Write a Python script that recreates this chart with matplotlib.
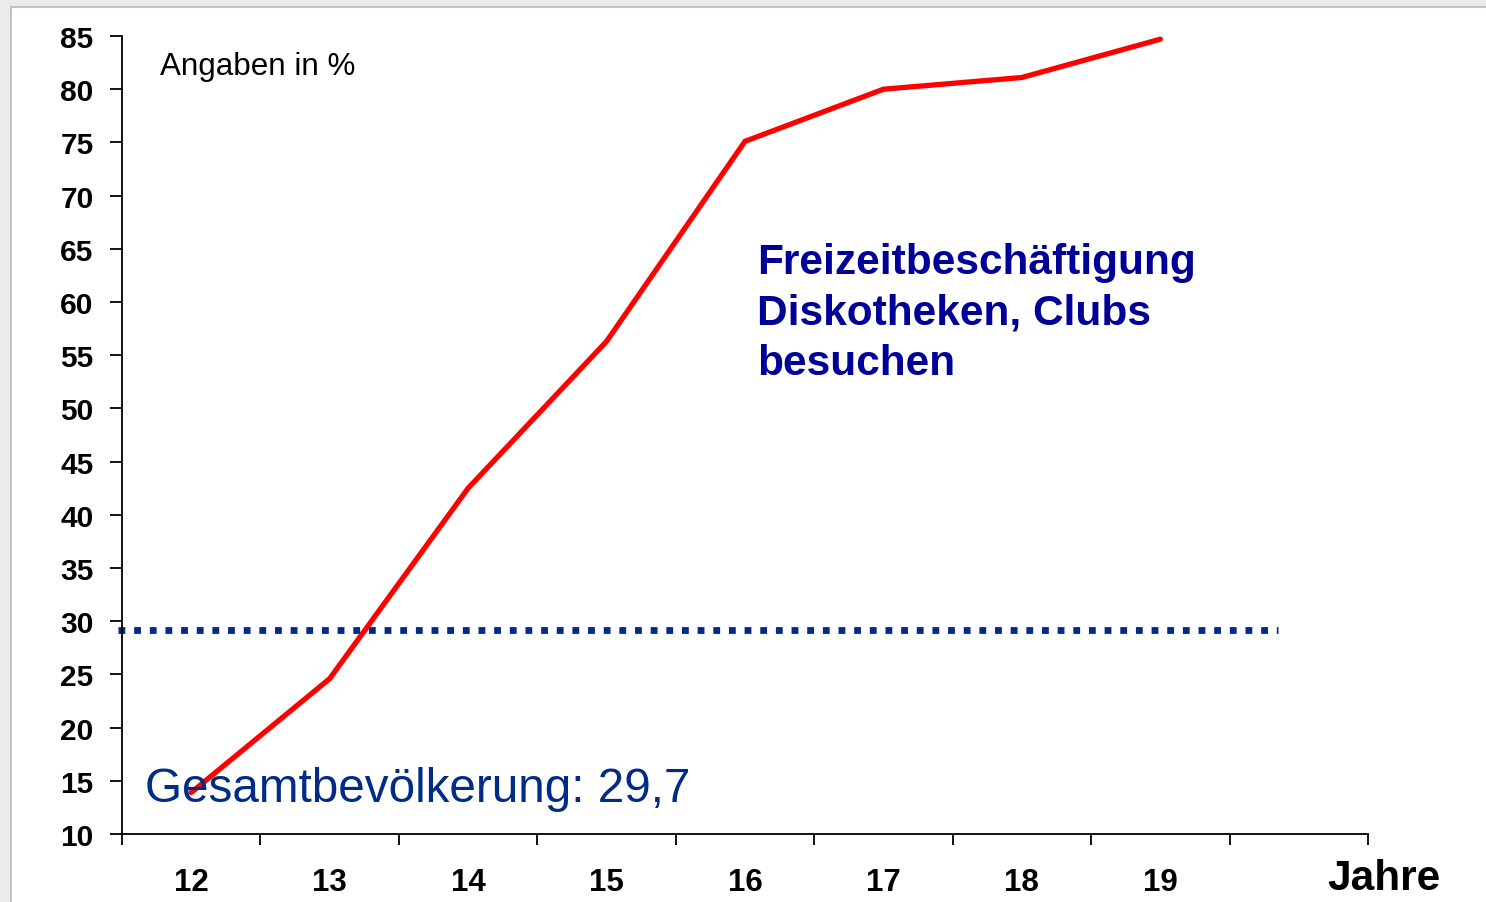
import matplotlib
matplotlib.use('Agg')
import matplotlib.pyplot as plt
from matplotlib.patches import Rectangle
import numpy as np

plt.rcParams['font.family'] = ['Liberation Sans', 'DejaVu Sans']

# data
ages = ['12', '13', '14', '15', '16', '17', '18', '19']
club_pct = [13.9, 24.6, 42.5, 56.3, 75.1, 80.0, 81.1, 84.7]
total_pop = 29.2          # position of the dotted reference line
total_label = 'Gesamtbevölkerung: 29,7'
y_ticks = list(range(10, 90, 5))

W, H = 1486, 903
fig = plt.figure(figsize=(W / 100, H / 100), dpi=100, facecolor='#ebebeb')

# white panel with thin grey frame (top and left edge visible)
panel = Rectangle((11 / W, -0.01), 1.0, (H - 8) / H + 0.01, transform=fig.transFigure,
                  facecolor='white', edgecolor='#c4c4c4', linewidth=1.5, zorder=-10)
fig.patches.append(panel)

ax = fig.add_axes([122 / W, 1 - 835 / H, (1368 - 122) / W, (835 - 37) / H])
ax.set_facecolor('none')

x = np.arange(len(ages)) + 0.5
ax.plot(x, club_pct, color='#ff0000', linewidth=3.8, solid_capstyle='round',
        solid_joinstyle='miter', zorder=3)
ax.plot([-0.03, 8.35], [total_pop, total_pop], color='#002b87', linewidth=4.9,
        linestyle=(0, (1.0, 1.3)), dash_capstyle='butt', clip_on=False, zorder=2)

ax.set_xlim(0, 9)
ax.set_ylim(10, 85)

for s in ['top', 'right']:
    ax.spines[s].set_visible(False)
for s in ['left', 'bottom']:
    ax.spines[s].set_linewidth(1.3)

ax.set_yticks(y_ticks)
ax.set_yticklabels([str(v) for v in y_ticks], fontsize=21.5, fontweight='bold')
ax.tick_params(axis='y', direction='out', length=8.5, width=1.3, pad=12)

ax.set_xticks(np.arange(0, 10))
ax.set_xticklabels([])
ax.set_xticks(x, minor=True)
ax.set_xticklabels(ages, minor=True, fontsize=22.5, fontweight='bold')
ax.tick_params(axis='x', which='major', direction='out', length=8, width=1.3)
ax.tick_params(axis='x', which='minor', length=0, pad=24)

ax.text(0.275, 81.4, 'Angaben in %', fontsize=22.6, va='baseline', ha='left')
ax.text(4.59, 65.6, 'Freizeitbeschäftigung\nDiskotheken, Clubs\nbesuchen',
        fontsize=30.5, fontweight='bold', color='#000099', va='top', ha='left',
        linespacing=1.33)
ax.text(0.166, 13.1, total_label, fontsize=34.3, color='#002b87', va='baseline',
        ha='left', zorder=4)

fig.text(1327 / W, 1 - 890 / H, 'Jahre', fontsize=30.5, fontweight='bold',
         va='baseline', ha='left')

fig.savefig('out.png', dpi=100, facecolor=fig.get_facecolor())
